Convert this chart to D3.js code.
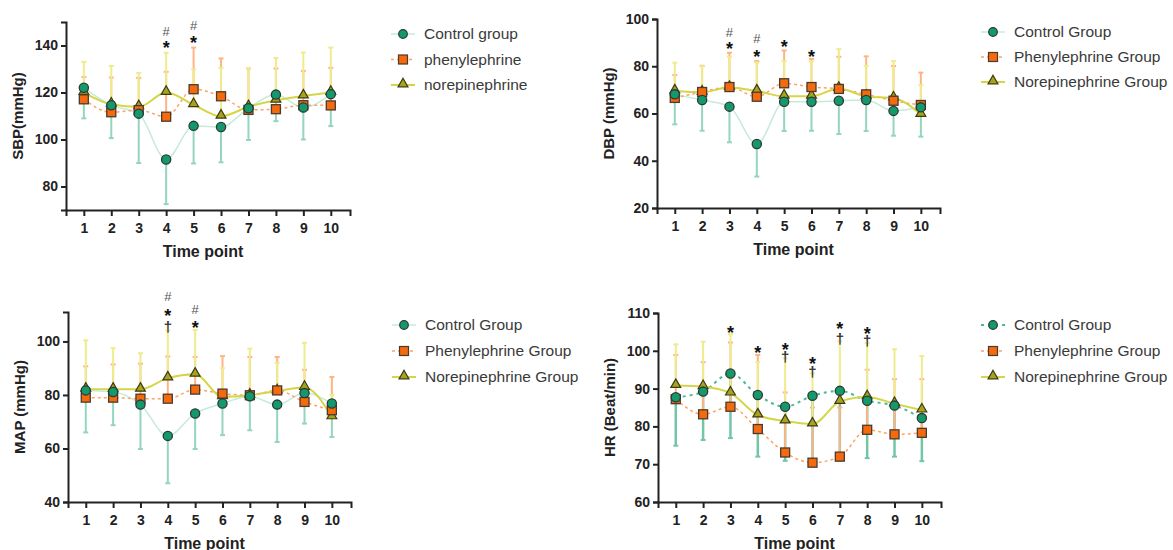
<!DOCTYPE html>
<html>
<head>
<meta charset="utf-8">
<script src="https://cdn.jsdelivr.net/npm/d3@7"></script>
<style>
  body { margin: 0; background: #fff; }
  svg { display: block; font-family: "Liberation Sans", Arial, sans-serif; }
  .axis path, .axis line { stroke: #222; stroke-width: 2px; }
  .axis text { font-size: 14px; font-weight: bold; fill: #222; }
  .axis-label { font-weight: bold; fill: #222; }
  .legend text { font-size: 15.5px; fill: #3a3a3a; }
</style>
</head>
<body>
<div id="chart"></div>
<script>
// time points on the x axis
const timePoints = [1, 2, 3, 4, 5, 6, 7, 8, 9, 10];

// SBP (mmHg): means and SD
const sbpControl = [122, 114.6, 111, 91.5, 105.8, 105.3, 113.3, 119.1, 113.6, 119.3];
const sbpControlSD = [13, 14, 21, 19, 16, 15, 13.5, 11.3, 13.6, 13.6];
const sbpPhenyl = [117.1, 111.6, 112.5, 109.7, 121.4, 118.4, 112.6, 112.9, 114.6, 114.5];
const sbpPhenylSD = [9.5, 14.8, 13.7, 19.1, 17.7, 16.1, 17.6, 17.3, 14.6, 16];
const sbpNorepi = [120, 115, 113.9, 120, 114.8, 109.9, 113.9, 116.7, 118.5, 120];
const sbpNorepiSD = [13, 16.3, 14.4, 16.9, 15, 20.6, 16.4, 18, 18.5, 19.1];

// DBP (mmHg)
const dbpControl = [68.1, 65.7, 62.9, 47.1, 65, 65, 65.4, 65.7, 61.1, 62.6];
const dbpControlSD = [12.7, 13, 15.1, 13.8, 12.4, 12.3, 14.1, 13.1, 10.5, 12.4];
const dbpPhenyl = [66.6, 69.1, 71.2, 67.1, 72.8, 71.2, 70.4, 68.1, 65.4, 63.6];
const dbpPhenylSD = [9.7, 11.1, 14.5, 15.1, 13.9, 11.9, 13.6, 16.1, 14.7, 13.7];
const dbpNorepi = [69.5, 69, 71, 69.5, 67.3, 67.3, 70.6, 67.2, 66.5, 59.6];
const dbpNorepiSD = [12, 11, 13, 12.1, 14.9, 14.7, 16.6, 13, 15.7, 12.4];

// MAP (mmHg)
const mapControl = [81.7, 81.1, 76.4, 64.7, 73.1, 76.8, 79.5, 76.4, 80.7, 76.8];
const mapControlSD = [15.7, 12.4, 16.6, 17.7, 13.3, 11.8, 12.7, 14, 11.4, 12.5];
const mapPhenyl = [79, 79, 78.6, 78.6, 82, 80.5, 79.9, 81.7, 77.4, 74.3];
const mapPhenylSD = [11.7, 12.4, 13.1, 15.8, 12.2, 14, 14.3, 12.5, 12, 12.4];
const mapNorepi = [82.1, 82.1, 82.1, 86.3, 87.7, 79.3, 79.9, 81.5, 82.8, 71.8];
const mapNorepiSD = [18.3, 15.4, 13.5, 17.8, 16.6, 10.7, 17.4, 10.5, 16.7, 8.2];

// HR (Beat/min)
const hrControl = [87.7, 89.2, 94, 88.3, 85.2, 88.1, 89.4, 86.8, 85.5, 82.2];
const hrControlSD = [12.8, 12.8, 17.1, 16.3, 14.3, 17.9, 18.4, 15.2, 13.5, 11.4];
const hrPhenyl = [87.2, 83.2, 85.2, 79.3, 73.1, 70.4, 72, 79.1, 77.9, 78.3];
const hrPhenylSD = [11.7, 13.8, 17, 19.6, 15.9, 14.6, 13, 15.9, 14.6, 14.2];
const hrNorepi = [90.8, 90.5, 88.8, 83, 81.4, 80.6, 86.6, 87.8, 86, 84.3];
const hrNorepiSD = [10.9, 11.9, 15.6, 14, 16.6, 13.4, 15.9, 14.2, 14.4, 14.3];

// significance marks: [time point, symbol, y value]
const sbpMarks = [[4, "#", 146], [4, "*", 141], [5, "#", 148.6], [5, "*", 143]];
const dbpMarks = [[3, "#", 94.5], [3, "*", 89], [4, "#", 92], [4, "*", 86], [5, "*", 90], [6, "*", 86]];
const mapMarks = [[4, "#", 116.8], [4, "*", 111], [4, "†", 105], [5, "#", 112], [5, "*", 106.5]];
const hrMarks = [[3, "*", 106], [4, "*", 100.5], [5, "*", 101.5], [5, "†", 98.2], [6, "*", 97.6], [6, "†", 94.3],
                 [7, "*", 107], [7, "†", 102.8], [8, "*", 105.7], [8, "†", 102.4]];

// y ticks and legend labels
const sbpTicks = [80, 100, 120, 140];
const dbpTicks = [20, 40, 60, 80, 100];
const mapTicks = [40, 60, 80, 100];
const hrTicks = [60, 70, 80, 90, 100, 110];
const sbpLegend = ["Control group", "phenylephrine", "norepinephrine"];
const groupLegend = ["Control Group", "Phenylephrine Group", "Norepinephrine Group"];

const colors = {
    green: "#13996c", greenErr: "#93d5bd", greenErrDark: "#72c6a6", greenLine: "#c6eadb", greenDash: "#4db893",
    orange: "#f56a0c", orangeErr: "#ffb483", orangeLine: "#ffa263",
    olive: "#a6a41e", yellowErr: "#eeec8c", yellowLine: "#d6d548"
};

const panels = [
    { yLabel: "SBP(mmHg)", domain: [70, 150], ticks: sbpTicks, marks: sbpMarks, legend: sbpLegend,
      box: { left: 66, right: 350, top: 22, bottom: 210 }, legendX: 403, legendY: 34, legendStep: 25.5,
      control: [sbpControl, sbpControlSD], phenyl: [sbpPhenyl, sbpPhenylSD], norepi: [sbpNorepi, sbpNorepiSD], dashed: false },
    { yLabel: "DBP (mmHg)", domain: [20, 100], ticks: dbpTicks, marks: dbpMarks, legend: groupLegend,
      box: { left: 657, right: 940, top: 19, bottom: 208 }, legendX: 993, legendY: 32, legendStep: 25,
      control: [dbpControl, dbpControlSD], phenyl: [dbpPhenyl, dbpPhenylSD], norepi: [dbpNorepi, dbpNorepiSD], dashed: false },
    { yLabel: "MAP (mmHg)", domain: [40, 111], ticks: mapTicks, marks: mapMarks, legend: groupLegend,
      box: { left: 68, right: 351, top: 312, bottom: 502 }, legendX: 404, legendY: 325, legendStep: 26,
      control: [mapControl, mapControlSD], phenyl: [mapPhenyl, mapPhenylSD], norepi: [mapNorepi, mapNorepiSD], dashed: false },
    { yLabel: "HR (Beat/min)", domain: [60, 110], ticks: hrTicks, marks: hrMarks, legend: groupLegend,
      box: { left: 658, right: 941, top: 313, bottom: 502 }, legendX: 993, legendY: 325, legendStep: 26,
      control: [hrControl, hrControlSD], phenyl: [hrPhenyl, hrPhenylSD], norepi: [hrNorepi, hrNorepiSD], dashed: true }
];

const svg = d3.select("#chart").append("svg")
    .attr("width", 1173)
    .attr("height", 550);

const triangle = d3.symbol().type(d3.symbolTriangle).size(42);

function drawPanel(p) {
    const b = p.box;
    const x = d3.scaleLinear().domain([0.35, 10.7]).range([b.left, b.right]);
    const y = d3.scaleLinear().domain(p.domain).range([b.bottom, b.top]);
    const g = svg.append("g");

    const series = [
        { key: "control", mean: p.control[0], sd: p.control[1], dir: -1,
          lineColor: p.dashed ? colors.greenDash : colors.greenLine, lineWidth: p.dashed ? 2 : 1.5,
          dash: p.dashed ? "3,4" : null, errColor: p.dashed ? colors.greenErrDark : colors.greenErr, errWidth: p.dashed ? 2.5 : 2 },
        { key: "phenyl", mean: p.phenyl[0], sd: p.phenyl[1], dir: 1,
          lineColor: colors.orangeLine, lineWidth: 1.5, dash: "3,3", errColor: colors.orangeErr, errWidth: 2 },
        { key: "norepi", mean: p.norepi[0], sd: p.norepi[1], dir: 1,
          lineColor: colors.yellowLine, lineWidth: 2, dash: null, errColor: colors.yellowErr, errWidth: 2 }
    ];

    const line = d3.line().x((d, i) => x(timePoints[i])).y(d => y(d)).curve(d3.curveMonotoneX);

    // connecting lines
    series.forEach(s => {
        g.append("path")
            .datum(s.mean)
            .attr("d", line)
            .attr("fill", "none")
            .attr("stroke", s.lineColor)
            .attr("stroke-width", s.lineWidth)
            .attr("stroke-dasharray", s.dash);
    });

    // error bars (control downward, treatment groups upward)
    series.forEach(s => {
        const bars = s.mean.map((m, i) => ({ t: timePoints[i], m: m, end: m + s.dir * s.sd[i] }));
        g.selectAll(null).data(bars).join("line")
            .attr("x1", d => x(d.t)).attr("x2", d => x(d.t))
            .attr("y1", d => y(d.m)).attr("y2", d => y(d.end))
            .attr("stroke", s.errColor).attr("stroke-width", s.errWidth);
        g.selectAll(null).data(bars).join("line")
            .attr("x1", d => x(d.t) - 2.5).attr("x2", d => x(d.t) + 2.5)
            .attr("y1", d => y(d.end)).attr("y2", d => y(d.end))
            .attr("stroke", s.errColor).attr("stroke-width", 2);
    });

    // axes
    g.append("g")
        .attr("class", "axis")
        .attr("transform", `translate(0,${b.bottom})`)
        .call(d3.axisBottom(x).tickValues(timePoints).tickFormat(d3.format("d")).tickSizeOuter(0).tickSize(6).tickPadding(7));
    g.append("g")
        .attr("class", "axis")
        .attr("transform", `translate(${b.left},0)`)
        .call(d3.axisLeft(y).tickValues(p.ticks).tickSizeOuter(0).tickSize(5).tickPadding(3));

    // markers
    g.selectAll(null).data(p.norepi[0]).join("path")
        .attr("d", triangle)
        .attr("transform", (d, i) => `translate(${x(timePoints[i])},${y(d) - 1})`)
        .attr("fill", colors.olive).attr("stroke", "#3d3a12").attr("stroke-width", 1.2);
    g.selectAll(null).data(p.phenyl[0]).join("rect")
        .attr("x", (d, i) => x(timePoints[i]) - 4.5).attr("y", d => y(d) - 4.5)
        .attr("width", 9).attr("height", 9)
        .attr("fill", colors.orange).attr("stroke", "#4a3a30").attr("stroke-width", 1.3);
    g.selectAll(null).data(p.control[0]).join("circle")
        .attr("cx", (d, i) => x(timePoints[i])).attr("cy", d => y(d))
        .attr("r", 4.6)
        .attr("fill", colors.green).attr("stroke", "#2b3a33").attr("stroke-width", 1.3);

    // significance symbols
    const dy = { "*": "0.58em", "#": "0.36em", "†": "0.28em" };
    const size = { "*": 18, "#": 13, "†": 15 };
    g.selectAll(null).data(p.marks).join("text")
        .attr("x", d => x(d[0]))
        .attr("y", d => y(d[2]))
        .attr("dy", d => dy[d[1]])
        .attr("text-anchor", "middle")
        .attr("font-size", d => size[d[1]])
        .attr("font-weight", d => d[1] === "#" ? "normal" : "bold")
        .attr("fill", d => d[1] === "*" ? "#111" : (d[1] === "#" ? "#555" : "#333"))
        .text(d => d[1]);

    // axis labels
    g.append("text")
        .attr("class", "axis-label")
        .attr("x", (b.left + b.right) / 2 - 5)
        .attr("y", b.bottom + 47)
        .attr("text-anchor", "middle")
        .style("font-size", "16px")
        .text("Time point");
    g.append("text")
        .attr("class", "axis-label")
        .attr("transform", `translate(${b.left - 43},${(b.top + b.bottom) / 2}) rotate(-90)`)
        .attr("text-anchor", "middle")
        .style("font-size", "15px")
        .text(p.yLabel);

    // legend
    const lg = g.append("g").attr("class", "legend");
    series.forEach((s, i) => {
        const ly = p.legendY + i * p.legendStep;
        lg.append("line")
            .attr("x1", p.legendX - 12).attr("x2", p.legendX + 12)
            .attr("y1", ly).attr("y2", ly)
            .attr("stroke", s.lineColor).attr("stroke-width", s.lineWidth)
            .attr("stroke-dasharray", s.dash);
        if (s.key === "control") {
            lg.append("circle").attr("cx", p.legendX).attr("cy", ly).attr("r", 4.3)
                .attr("fill", colors.green).attr("stroke", "#2b3a33").attr("stroke-width", 1.2);
        } else if (s.key === "phenyl") {
            lg.append("rect").attr("x", p.legendX - 4.5).attr("y", ly - 4.5).attr("width", 9).attr("height", 9)
                .attr("fill", colors.orange).attr("stroke", "#4a3a30").attr("stroke-width", 1.2);
        } else {
            lg.append("path").attr("d", triangle).attr("transform", `translate(${p.legendX},${ly - 1})`)
                .attr("fill", colors.olive).attr("stroke", "#3d3a12").attr("stroke-width", 1.2);
        }
        lg.append("text")
            .attr("x", p.legendX + 21)
            .attr("y", ly)
            .attr("dy", "0.35em")
            .text(p.legend[i]);
    });
}

panels.forEach(drawPanel);
</script>
</body>
</html>
